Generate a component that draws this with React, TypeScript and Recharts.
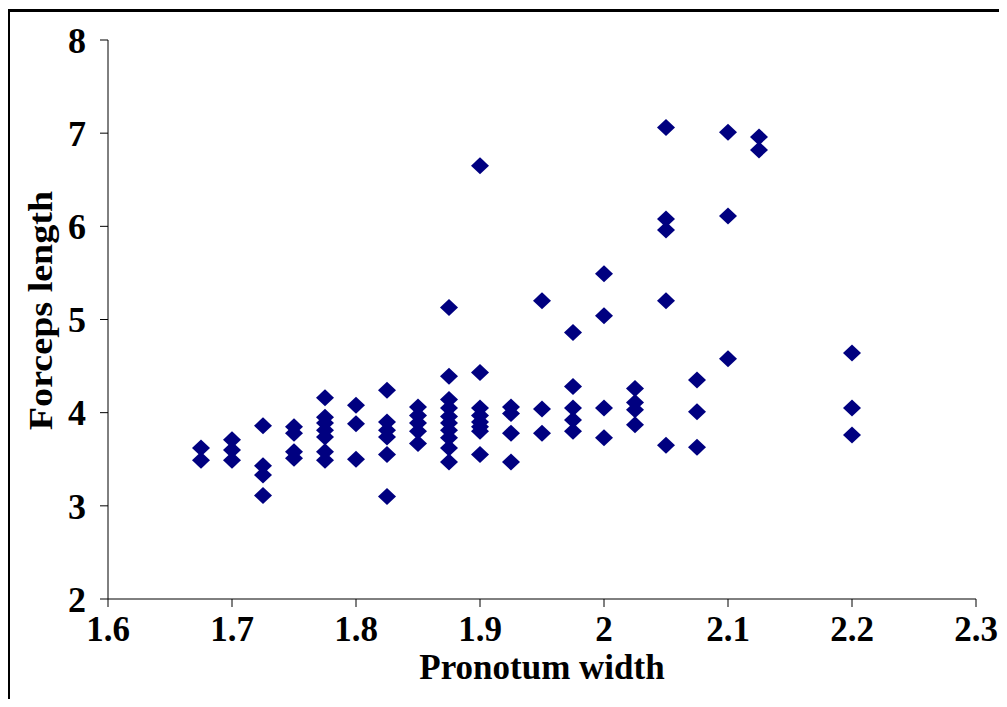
import { ScatterChart, Scatter, XAxis, YAxis } from "recharts"

// pronotum width columns and the forceps lengths measured at each
const widths = [
  1.675, 1.7, 1.725, 1.75, 1.775, 1.8, 1.825, 1.85, 1.875, 1.9,
  1.925, 1.95, 1.975, 2.0, 2.025, 2.05, 2.075, 2.1, 2.125, 2.2,
]

const lengths: number[][] = [
  [3.62, 3.49],
  [3.71, 3.6, 3.49],
  [3.86, 3.43, 3.33, 3.11],
  [3.85, 3.78, 3.58, 3.51],
  [4.16, 3.95, 3.89, 3.81, 3.74, 3.58, 3.49],
  [4.08, 3.88, 3.5],
  [4.24, 3.9, 3.81, 3.74, 3.55, 3.1],
  [4.06, 3.97, 3.89, 3.8, 3.67],
  [5.13, 4.39, 4.14, 4.05, 3.96, 3.89, 3.81, 3.73, 3.62, 3.47],
  [6.65, 4.43, 4.05, 3.97, 3.9, 3.85, 3.8, 3.55],
  [4.06, 3.99, 3.78, 3.47],
  [5.2, 4.04, 3.78],
  [4.86, 4.28, 4.05, 3.92, 3.8],
  [5.49, 5.04, 4.05, 3.73],
  [4.26, 4.11, 4.03, 3.87],
  [7.06, 6.08, 5.96, 5.2, 3.65],
  [4.35, 4.01, 3.63],
  [7.01, 6.11, 4.58],
  [6.96, 6.82],
  [4.64, 4.05, 3.76],
]

const xTicks = [1.6, 1.7, 1.8, 1.9, 2.0, 2.1, 2.2, 2.3]
const yTicks = [2, 3, 4, 5, 6, 7, 8]

const points = widths.flatMap((w, i) => lengths[i].map((l) => ({ width: w, length: l })))

const FONT = "'Liberation Serif', 'Times New Roman', serif"
const NAVY = "#000080"

function Diamond({ cx, cy }: { cx?: number; cy?: number }) {
  if (cx == null || cy == null) return null
  return (
    <polygon
      points={`${cx - 9},${cy} ${cx},${cy - 8.5} ${cx + 9},${cy} ${cx},${cy + 8.5}`}
      fill={NAVY}
    />
  )
}

function XTitle({ viewBox }: { viewBox?: { x: number; y: number; width: number } }) {
  if (!viewBox) return null
  return (
    <text
      x={viewBox.x + viewBox.width / 2}
      y={viewBox.y + 80}
      textAnchor="middle"
      fontFamily={FONT}
      fontWeight="bold"
      fontSize={35}
      fill="#000"
    >
      Pronotum width
    </text>
  )
}

function YTitle({ viewBox }: { viewBox?: { x: number; y: number; height: number } }) {
  if (!viewBox) return null
  const cx = 44
  const cy = viewBox.y + viewBox.height / 2 - 9
  return (
    <text
      x={0}
      y={0}
      transform={`translate(${cx} ${cy}) rotate(-90) scale(1.12 1)`}
      textAnchor="middle"
      fontFamily={FONT}
      fontWeight="bold"
      fontSize={34}
      fill="#000"
    >
      Forceps length
    </text>
  )
}

export default function App() {
  return (
    <div style={{ position: "relative", width: 991, height: 691 }}>
      <div
        style={{
          position: "absolute",
          left: -1,
          top: 1,
          width: 996,
          height: 710,
          border: "3px solid #000",
          boxSizing: "border-box",
        }}
      />
      <ScatterChart
        width={991}
        height={691}
        margin={{ top: 32, right: 23, left: 0, bottom: 0 }}
        style={{ position: "absolute", left: 0, top: 0 }}
      >
        <XAxis
          type="number"
          dataKey="width"
          domain={[1.6, 2.3]}
          ticks={xTicks}
          tickFormatter={(v: number) => String(Number(v.toFixed(1)))}
          height={100}
          stroke="#000"
          tickSize={8}
          tickMargin={9}
          tick={{ fill: "#000", fontFamily: FONT, fontWeight: "bold", fontSize: 35 }}
          label={<XTitle />}
        />
        <YAxis
          type="number"
          dataKey="length"
          domain={[2, 8]}
          ticks={yTicks}
          width={100}
          stroke="#000"
          tickSize={8}
          tickMargin={14}
          tick={{ fill: "#000", fontFamily: FONT, fontWeight: "bold", fontSize: 36 }}
          label={<YTitle />}
        />
        <Scatter data={points} shape={<Diamond />} isAnimationActive={false} />
      </ScatterChart>
    </div>
  )
}
